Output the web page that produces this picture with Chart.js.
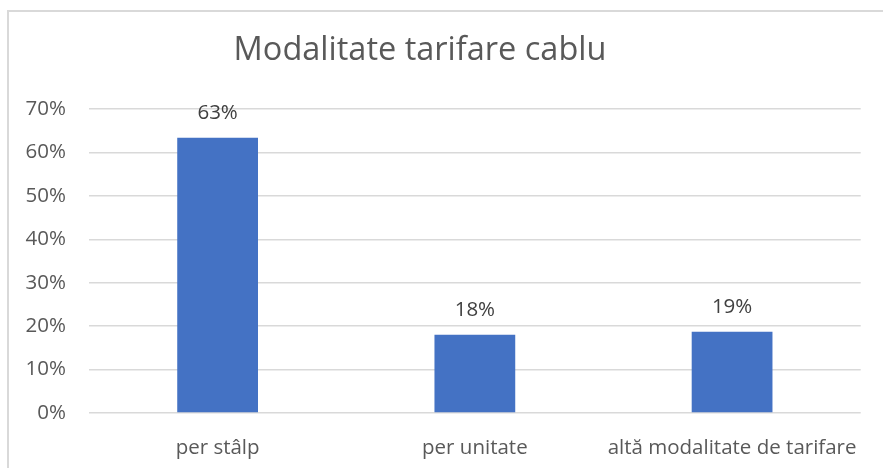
<!DOCTYPE html>
<html>
<head>
<meta charset="utf-8">
<script src="https://cdn.jsdelivr.net/npm/chart.js@4"></script>
<style>
  html, body { margin: 0; padding: 0; background: #fff; overflow: hidden; }
  #frame {
    position: absolute; left: 7px; top: 10px;
    width: 940px; height: 520px;
    border: 2px solid #d9d9d9;
  }
  #wrap { position: absolute; left: 0; top: 0; width: 883px; height: 468px; }
</style>
</head>
<body>
<div id="frame"></div>
<div id="wrap"><canvas id="chart"></canvas></div>
<script>
const categories = ["per stâlp", "per unitate", "altă modalitate de tarifare"];
const shares = [0.634, 0.18, 0.187];
const shareLabels = ["63%", "18%", "19%"];
const tickLabels = ["0%", "10%", "20%", "30%", "40%", "50%", "60%", "70%"];
const chartTitle = "Modalitate tarifare cablu";

const FONT = "'Open Sans', sans-serif";

// title + percentage text above each bar
const textLayer = {
  id: "textLayer",
  afterDatasetsDraw(chart) {
    const ctx = chart.ctx;
    const meta = chart.getDatasetMeta(0);
    ctx.save();
    ctx.textAlign = "center";
    ctx.textBaseline = "middle";

    ctx.font = "32.5px " + FONT;
    ctx.fillStyle = "#595959";
    ctx.fillText(chartTitle, 420, 51);

    ctx.font = "20.5px " + FONT;
    ctx.fillStyle = "#404040";
    meta.data.forEach((bar, i) => {
      ctx.fillText(shareLabels[i], bar.x, bar.y - 25);
    });
    ctx.restore();
  }
};

new Chart(document.getElementById("chart"), {
  type: "bar",
  data: {
    labels: categories,
    datasets: [{
      data: shares,
      backgroundColor: "#4472C4",
      categoryPercentage: 1,
      barPercentage: 0.314
    }]
  },
  options: {
    responsive: true,
    maintainAspectRatio: false,
    animation: false,
    layout: { padding: { left: 0, right: 21, top: 109, bottom: 0 } },
    plugins: {
      legend: { display: false },
      tooltip: { enabled: false },
      title: { display: false }
    },
    scales: {
      x: {
        grid: { display: false, drawTicks: false },
        border: { display: false },
        ticks: {
          color: "#595959",
          font: { family: FONT, size: 20.5 },
          padding: 23,
          maxRotation: 0
        },
        afterFit(scale) { scale.height = 55; }
      },
      y: {
        min: 0,
        max: 0.7,
        grid: { color: "#d9d9d9", lineWidth: 1.5, drawTicks: false },
        border: { display: false },
        ticks: {
          stepSize: 0.1,
          color: "#595959",
          font: { family: FONT, size: 20.5 },
          padding: 23,
          callback: (v, i) => tickLabels[i]
        },
        afterFit(scale) { scale.width = 89; }
      }
    }
  },
  plugins: [textLayer]
});
</script>
</body>
</html>
